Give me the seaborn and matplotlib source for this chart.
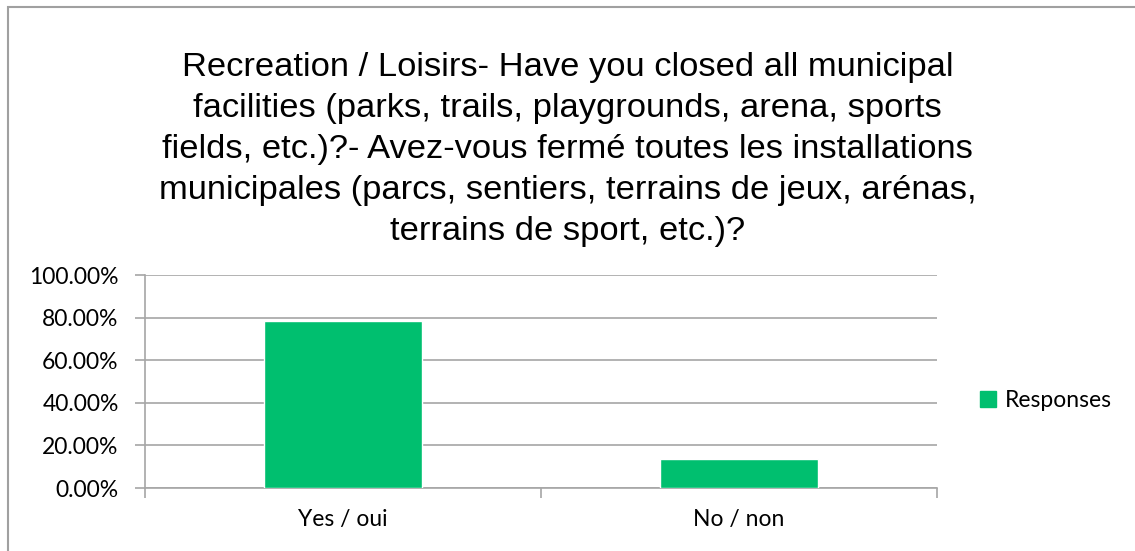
import numpy as np
import pandas as pd
import seaborn as sns
import matplotlib.pyplot as plt
from matplotlib.patches import Patch, Rectangle

categories = ['Yes / oui', 'No / non']
responses = [78.3, 13.6]
series_name = 'Responses'
title = ('Recreation / Loisirs- Have you closed all municipal\n'
         'facilities (parks, trails, playgrounds, arena, sports\n'
         'fields, etc.)?- Avez-vous fermé toutes les installations\n'
         'municipales (parcs, sentiers, terrains de jeux, arénas,\n'
         'terrains de sport, etc.)?')

df = pd.DataFrame({'answer': categories, 'pct': responses})

sns.set_style('white')
plt.rcParams['font.family'] = ['Lato', 'DejaVu Sans']
plt.rcParams['text.color'] = 'black'
plt.rcParams['xtick.labelcolor'] = 'black'
plt.rcParams['ytick.labelcolor'] = 'black'

fig = plt.figure(figsize=(11.35, 5.51), dpi=100)
ax = fig.add_axes([0.1278, 0.1143, 0.6978, 0.3866])

green = '#00bf6f'
grid = '#a6a6a6'
sns.barplot(data=df, x='answer', y='pct', color=green, width=0.4, ax=ax,
            saturation=1, zorder=3)

ax.set_ylim(0, 100)
ax.set_xlim(-0.5, 1.5)
ax.set_yticks(np.arange(0, 101, 20))
ax.set_yticklabels([f'{v:.2f}%' for v in np.arange(0, 101, 20)], fontsize=16.5)
ax.yaxis.grid(True, color=grid, linewidth=1.2, zorder=0)
ax.set_xlabel('')
ax.set_ylabel('')
ax.tick_params(axis='x', length=0, labelsize=16.5, pad=15)
ax.tick_params(axis='y', length=7, width=1.2, color=grid, pad=12, left=True)
# category boundary ticks
ax.set_xticks([-0.5, 0.5, 1.5], minor=True)
ax.tick_params(axis='x', which='minor', length=7, width=1.2, color=grid, bottom=True)
for s in ['top', 'right']:
    ax.spines[s].set_visible(False)
for s in ['left', 'bottom']:
    ax.spines[s].set_color(grid)
    ax.spines[s].set_linewidth(1.2)

fig.text(0.5, 0.905, title, ha='center', va='top', fontsize=24.8,
         family=['Liberation Sans', 'DejaVu Sans'], linespacing=1.41)

ax.legend(handles=[Patch(color=green, label=series_name)], loc='center left',
          bbox_to_anchor=(1.028, 0.413), frameon=False, fontsize=16.5,
          handlelength=0.7, handleheight=0.7, handletextpad=0.4)

fig.patches.append(Rectangle((0.007, -0.01), 1.1, 0.997, transform=fig.transFigure,
                             fill=False, edgecolor='#a0a0a0', linewidth=1.5))

fig.savefig('out.png', dpi=100)
